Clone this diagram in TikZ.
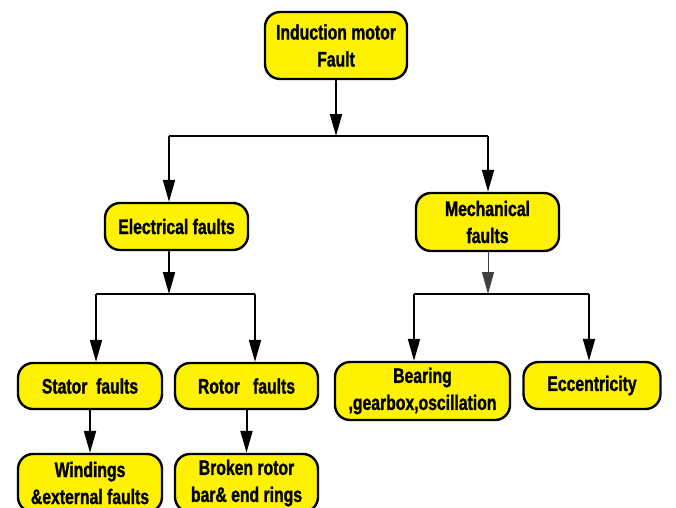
\documentclass[tikz,border=0pt]{standalone}
\usepackage{fontspec}
\setmainfont{Liberation Sans}[FakeStretch=0.75,FakeBold=1.2]
\usetikzlibrary{arrows.meta}
\tikzset{
  box/.style={draw=black, line width=2.4pt, fill=yellow, rounded corners=15pt,
    align=center, inner sep=0pt, font=\fontsize{21}{27}\selectfont\bfseries},
  conn/.style={draw=black, line width=2pt},
  arr/.style={conn, -{Triangle[length=22pt,width=12pt]}},
  thinarr/.style={draw=black!75, line width=1pt, -{Triangle[length=22pt,width=12pt]}}
}
\begin{document}
\begin{tikzpicture}[x=1pt,y=-1pt]
\useasboundingbox (0,0) rectangle (676,507);
\clip (0,0) rectangle (676,507);
% nodes
\node[box, minimum width=142pt, minimum height=67pt] (root) at (336,45.5) {Induction motor\\Fault};
\node[box, minimum width=143pt, minimum height=47pt] (elec) at (176.5,226.5) {Electrical faults};
\node[box, minimum width=143pt, minimum height=58pt] (mech) at (487.5,222) {Mechanical\\faults};
\node[box, minimum width=144pt, minimum height=46pt] (stator) at (90,386) {Stator\ \ faults};
\node[box, minimum width=143pt, minimum height=46pt] (rotor) at (246.5,386) {Rotor\ \ \ faults};
\node[box, minimum width=175pt, minimum height=58pt] (bearing) at (422.5,391) {Bearing\\,gearbox,oscillation};
\node[box, minimum width=137pt, minimum height=47pt] (ecc) at (592,385.5) {Eccentricity};
\node[box, minimum width=144pt, minimum height=58pt] (wind) at (90,483) {Windings\\\&external faults};
\node[box, minimum width=143pt, minimum height=58pt] (broken) at (246.5,483) {Broken rotor\\bar\& end rings};
% junctions
\coordinate (j1) at (336,136);
\coordinate (l1) at (169,136);
\coordinate (r1) at (488,136);
\coordinate (j2) at (169,294);
\coordinate (l2) at (96,294);
\coordinate (r2) at (255,294);
\coordinate (j3) at (488,294);
\coordinate (l3) at (414,294);
\coordinate (r3) at (589,294);
% level 1
\draw[arr] (root.south -| j1) -- (j1);
\draw[conn] (l1) -- (r1);
\draw[arr] (l1) -- (l1 |- elec.north);
\draw[arr] (r1) -- (r1 |- mech.north);
% level 2 electrical
\draw[arr] (elec.south -| j2) -- (j2);
\draw[conn] (l2) -- (r2);
\draw[arr] (l2) -- (l2 |- stator.north);
\draw[arr] (r2) -- (r2 |- rotor.north);
% level 2 mechanical
\draw[thinarr] (mech.south -| j3) -- (j3);
\draw[conn] (l3) -- (r3);
\draw[arr] (l3) -- (l3 |- bearing.north);
\draw[arr] (r3) -- (r3 |- ecc.north);
% level 3
\draw[arr] (stator.south) -- (wind.north);
\draw[arr] (rotor.south) -- (broken.north);
\end{tikzpicture}
\end{document}
